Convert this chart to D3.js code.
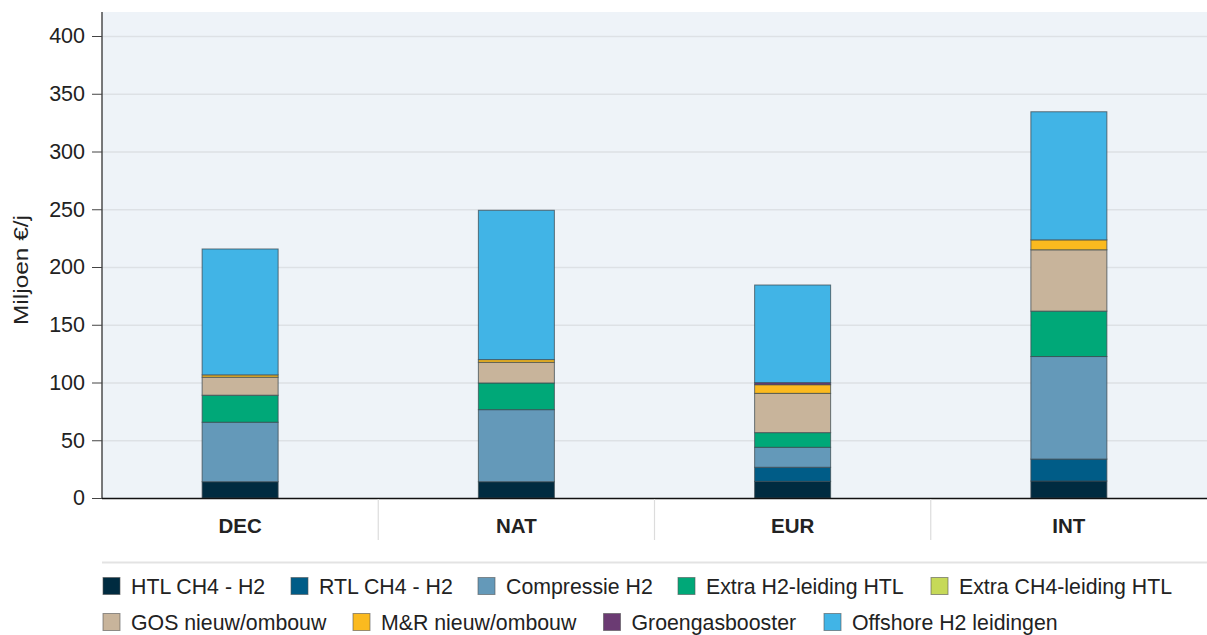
<!DOCTYPE html>
<html>
<head>
<meta charset="utf-8">
<script src="https://cdn.jsdelivr.net/npm/d3@7"></script>
<style>
  html, body { margin: 0; padding: 0; background: #ffffff; }
  svg { display: block; font-family: "Liberation Sans", Arial, sans-serif; }
</style>
</head>
<body>
<svg id="chart" width="1207" height="635"></svg>
<script>
// Scenario categories on the x axis
const categories = ["DEC", "NAT", "EUR", "INT"];

// Cost components (stack order, bottom to top)
const seriesNames = [
  "HTL CH4 - H2", "RTL CH4 - H2", "Compressie H2", "Extra H2-leiding HTL",
  "Extra CH4-leiding HTL", "GOS nieuw/ombouw", "M&R nieuw/ombouw",
  "Groengasbooster", "Offshore H2 leidingen"
];
const seriesColors = [
  "#002b40", "#005c87", "#6499b9", "#00a878",
  "#c6d958", "#c8b49b", "#fbba1f", "#6b3b73", "#41b4e6"
];

// Values in Miljoen €/j, one entry per category (DEC, NAT, EUR, INT)
const htlCh4H2      = [14.1, 14.1, 14.4, 14.7];
const rtlCh4H2      = [0, 0, 12.2, 19.0];
const compressieH2  = [51.5, 62.4, 17.3, 88.8];
const extraH2HTL    = [23.4, 23.1, 12.7, 39.3];
const extraCh4HTL   = [0, 0, 0, 0];
const gosNieuw      = [15.6, 17.9, 34.0, 53.1];
const mrNieuw       = [2.0, 2.3, 7.5, 8.6];
const groengas      = [0, 0, 1.8, 0];
const offshoreH2    = [109.0, 129.3, 84.5, 110.9];

const seriesValues = [htlCh4H2, rtlCh4H2, compressieH2, extraH2HTL,
  extraCh4HTL, gosNieuw, mrNieuw, groengas, offshoreH2];

const yTicks = [0, 50, 100, 150, 200, 250, 300, 350, 400];
const yLabel = "Miljoen €/j";

// Build a row per category for d3.stack
const rows = categories.map((c, i) => {
  const r = { cat: c };
  seriesNames.forEach((s, j) => { r[s] = seriesValues[j][i]; });
  return r;
});
const stacked = d3.stack().keys(seriesNames)(rows);

const svg = d3.select("#chart");
const plotLeft = 102, plotRight = 1207, plotTop = 12, plotBottom = 498;

const x = d3.scaleBand().domain(categories).range([plotLeft, plotRight]).paddingInner(0).paddingOuter(0);
// 0 sits on the baseline, 400 at y = 36; the plot extends a little above that
const y = d3.scaleLinear()
  .domain([0, 400 * (plotBottom - plotTop) / (plotBottom - 36)])
  .range([plotBottom, plotTop]);

// Plot background
svg.append("rect")
  .attr("x", plotLeft).attr("y", plotTop)
  .attr("width", plotRight - plotLeft).attr("height", plotBottom - plotTop)
  .attr("fill", "#eef3f8");

// Horizontal gridlines
svg.append("g")
  .selectAll("line")
  .data(yTicks.filter(t => t > 0))
  .join("line")
  .attr("x1", plotLeft).attr("x2", plotRight)
  .attr("y1", d => y(d) + 0.5).attr("y2", d => y(d) + 0.5)
  .attr("stroke", "#dde1e5").attr("stroke-width", 1.5);

// Bars
const barW = 76;
svg.append("g")
  .selectAll("g")
  .data(stacked)
  .join("g")
  .attr("fill", (d, i) => seriesColors[i])
  .selectAll("rect")
  .data(d => d.filter(p => p[1] - p[0] > 0))
  .join("rect")
  .attr("x", d => x(d.data.cat) + x.bandwidth() / 2 - barW / 2)
  .attr("width", barW)
  .attr("y", d => y(d[1]))
  .attr("height", d => y(d[0]) - y(d[1]))
  .attr("stroke", "#3c4a50")
  .attr("stroke-opacity", 0.75)
  .attr("stroke-width", 1);

// Y axis
const yAxis = svg.append("g")
  .attr("transform", `translate(${plotLeft},0)`)
  .call(d3.axisLeft(y).tickValues(yTicks).tickSize(10).tickPadding(7));
yAxis.select(".domain").attr("d", `M0,${plotTop}V${plotBottom}`).attr("stroke", "#222").attr("stroke-width", 1.2);
yAxis.selectAll(".tick line").attr("stroke", "#444");
yAxis.selectAll(".tick text")
  .attr("font-size", 21.5).attr("fill", "#222")
  .attr("font-family", "Liberation Sans, Arial, sans-serif");

// Y axis title
svg.append("text")
  .attr("transform", "translate(28,270) rotate(-90)")
  .attr("text-anchor", "middle")
  .attr("font-size", 21).attr("fill", "#222")
  .attr("textLength", 110).attr("lengthAdjust", "spacingAndGlyphs")
  .text(yLabel);

// X baseline
svg.append("line")
  .attr("x1", plotLeft).attr("x2", plotRight)
  .attr("y1", plotBottom + 0.5).attr("y2", plotBottom + 0.5)
  .attr("stroke", "#111").attr("stroke-width", 1.5);

// Category separators
svg.append("g")
  .selectAll("line")
  .data(categories.slice(1))
  .join("line")
  .attr("x1", d => x(d)).attr("x2", d => x(d))
  .attr("y1", plotBottom + 1).attr("y2", 540)
  .attr("stroke", "#dcdcdc").attr("stroke-width", 1.2);

// Category labels
svg.append("g")
  .selectAll("text")
  .data(categories)
  .join("text")
  .attr("x", d => x(d) + x.bandwidth() / 2)
  .attr("y", 532.5)
  .attr("text-anchor", "middle")
  .attr("font-size", 20.5).attr("font-weight", "bold").attr("fill", "#222")
  .text(d => d);

// Legend separator
svg.append("line")
  .attr("x1", plotLeft).attr("x2", plotRight)
  .attr("y1", 562.5).attr("y2", 562.5)
  .attr("stroke", "#e3e3e3").attr("stroke-width", 2);

// Legend: text start x and row centre y for each entry
const legendPos = [
  [131, 586], [319, 586], [506, 586], [706, 586], [959, 586],
  [131, 622], [381, 622], [631.5, 622], [852, 622]
];
const legend = svg.append("g")
  .selectAll("g")
  .data(seriesNames)
  .join("g")
  .attr("transform", (d, i) => `translate(${legendPos[i][0]},${legendPos[i][1]})`);
legend.append("rect")
  .attr("x", -28).attr("y", -8.5).attr("width", 17).attr("height", 17)
  .attr("fill", (d, i) => seriesColors[i])
  .attr("stroke", "#555").attr("stroke-opacity", 0.6);
legend.append("text")
  .attr("x", 0).attr("y", 7.5)
  .attr("font-size", 21.3).attr("fill", "#222")
  .text(d => d);
</script>
</body>
</html>
